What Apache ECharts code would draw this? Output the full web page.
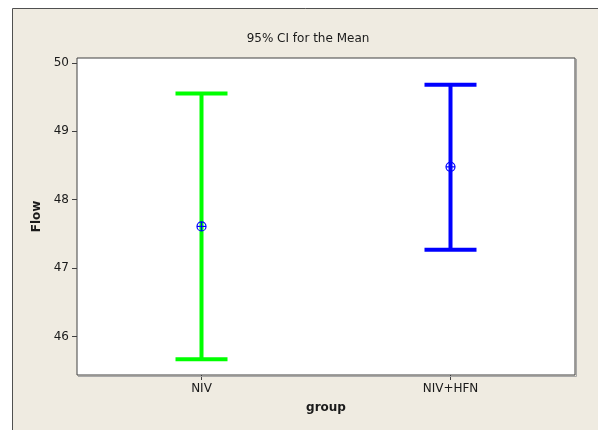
<!DOCTYPE html>
<html>
<head>
<meta charset="utf-8">
<script src="https://cdn.jsdelivr.net/npm/echarts@6/dist/echarts.min.js"></script>
<style>
  html, body { margin: 0; padding: 0; background: #ffffff; }
  #chart { width: 598px; height: 430px; }
</style>
</head>
<body>
<div id="chart"></div>
<script>
// Interval plot: 95% confidence interval for mean Flow by group
const groups = ['NIV', 'NIV+HFN'];
const ciLower = [45.67, 47.27];
const ciUpper = [49.55, 49.68];
const means = [47.61, 48.48];
const barColors = ['#00ff00', '#0000ff'];
const yTickValues = [46, 47, 48, 49, 50];

const FONT = 'DejaVu Sans';
const GRID = { left: 77, top: 58, right: 23, bottom: 55 };
const W = 598, H = 430;
const chart = echarts.init(document.getElementById('chart'), null, { renderer: 'canvas' });

const intervalData = groups.map((g, i) => [i, ciLower[i], ciUpper[i], means[i]]);

function renderInterval(params, api) {
  const idx = api.value(0);
  const top = api.coord([idx, api.value(2)]);
  const bottom = api.coord([idx, api.value(1)]);
  const mid = api.coord([idx, api.value(3)]);
  const color = barColors[params.dataIndex];
  const half = 26;
  const r = 4.5;
  const lineStyle = { stroke: color, lineWidth: 4 };
  const markStyle = { stroke: '#0000ff', lineWidth: 1.2, fill: null };
  return {
    type: 'group',
    children: [
      { type: 'line', shape: { x1: top[0], y1: top[1], x2: bottom[0], y2: bottom[1] }, style: lineStyle },
      { type: 'line', shape: { x1: top[0] - half, y1: top[1], x2: top[0] + half, y2: top[1] }, style: lineStyle },
      { type: 'line', shape: { x1: bottom[0] - half, y1: bottom[1], x2: bottom[0] + half, y2: bottom[1] }, style: lineStyle },
      { type: 'circle', shape: { cx: mid[0], cy: mid[1], r: r }, style: markStyle },
      { type: 'line', shape: { x1: mid[0] - r, y1: mid[1], x2: mid[0] + r, y2: mid[1] }, style: markStyle },
      { type: 'line', shape: { x1: mid[0], y1: mid[1] - r, x2: mid[0], y2: mid[1] + r }, style: markStyle }
    ]
  };
}

// light edge along the right and bottom of the plot frame
const frameRight = W - GRID.right + 1.5;
const frameBottom = H - GRID.bottom + 1.5;

chart.setOption({
  animation: false,
  backgroundColor: '#ffffff',
  graphic: [
    {
      type: 'rect',
      z: -10,
      silent: true,
      shape: { x: 12.5, y: 8.5, width: 620, height: 440 },
      style: { fill: '#efebe1', stroke: '#505050', lineWidth: 1 }
    },
    {
      type: 'polyline',
      silent: true,
      z: 10,
      shape: { points: [[frameRight, GRID.top + 1], [frameRight, frameBottom], [GRID.left + 1, frameBottom]] },
      style: { stroke: '#a8a8a8', lineWidth: 1, fill: null }
    },
    {
      type: 'text',
      x: 308,
      y: 39,
      style: {
        text: '95% CI for the Mean',
        align: 'center',
        verticalAlign: 'middle',
        fontFamily: FONT,
        fontSize: 12,
        fill: '#1a1a1a'
      }
    }
  ],
  grid: {
    left: GRID.left,
    top: GRID.top,
    right: GRID.right,
    bottom: GRID.bottom,
    show: true,
    backgroundColor: '#ffffff',
    borderColor: '#404040',
    borderWidth: 1
  },
  xAxis: {
    type: 'category',
    data: groups,
    boundaryGap: true,
    name: 'group',
    nameLocation: 'middle',
    nameGap: 27,
    nameTextStyle: { fontFamily: FONT, fontSize: 12, fontWeight: 'bold', color: '#1a1a1a' },
    axisLine: { show: false },
    axisTick: { show: true, alignWithLabel: true, length: 5, lineStyle: { color: '#404040' } },
    axisLabel: { margin: 8, fontFamily: FONT, fontSize: 12, color: '#1a1a1a' },
    splitLine: { show: false }
  },
  yAxis: {
    type: 'value',
    min: 45.44,
    max: 50.07,
    name: 'Flow',
    nameLocation: 'middle',
    nameRotate: 90,
    nameGap: 33,
    nameTextStyle: { fontFamily: FONT, fontSize: 12, fontWeight: 'bold', color: '#1a1a1a' },
    axisLine: { show: false },
    axisTick: { show: true, length: 5, customValues: yTickValues, lineStyle: { color: '#404040' } },
    axisLabel: { margin: 8, fontFamily: FONT, fontSize: 12, color: '#1a1a1a', customValues: yTickValues },
    splitLine: { show: false }
  },
  series: [
    {
      type: 'custom',
      renderItem: renderInterval,
      data: intervalData,
      encode: { x: 0, y: [1, 2, 3] },
      clip: false
    }
  ]
});
</script>
</body>
</html>
